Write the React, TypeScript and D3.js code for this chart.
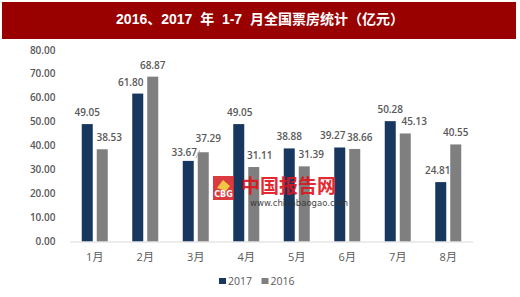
import React from "react";
import * as d3 from "d3";

const months = ["1月", "2月", "3月", "4月", "5月", "6月", "7月", "8月"];
const series = ["2017", "2016"];
const values2017 = [49.05, 61.8, 33.67, 49.05, 38.88, 39.27, 50.28, 24.81];
const values2016 = [38.53, 68.87, 37.29, 31.11, 31.39, 38.66, 45.13, 40.55];
const yTicks = [0, 10, 20, 30, 40, 50, 60, 70, 80];

// label nudges (layout only)
const nudge2017 = [0, -7, -4, 1, 0, -7, 0, -3];
const nudge2016 = [7, 0, 5, 6, 7, 5, 9, 0];
const lift2017 = [0, 0, -3, 0, 0, 0, 0, 0];
const lift2016 = [0, 0, 2, 0, 0, 0, 0, 0];

const W = 520;
const H = 297;
const colors: Record<string, string> = { "2017": "#17375E", "2016": "#7F7F7F" };
const numFont = "'Open Sans', 'Noto Sans CJK SC', sans-serif";
const textGrey = "#595959";

export default function App() {
  const x = d3.scaleBand<string>().domain(months).range([69.5, 473.5]);
  const x1 = d3
    .scaleBand<string>()
    .domain(series)
    .range([(x.bandwidth() - 26) / 2, (x.bandwidth() + 26) / 2])
    .paddingInner(4 / 15);
  const y = d3.scaleLinear().domain([0, 80]).range([241.5, 50]);
  const fmt = d3.format(".2f");

  const data = series.map((s) => ({
    key: s,
    vals: s === "2017" ? values2017 : values2016,
    nudge: s === "2017" ? nudge2017 : nudge2016,
    lift: s === "2017" ? lift2017 : lift2016,
  }));

  return (
    <svg
      width={W}
      height={H}
      style={{ position: "absolute", left: 0, top: 0, background: "#fff" }}
    >
      <rect x={0} y={0} width={W} height={H} fill="#fff" />
      <rect x={2} y={2} width={514} height={37} fill="#990000" />
      <text
        x={260}
        y={20.5}
        textAnchor="middle"
        dominantBaseline="middle"
        fill="#fff"
        fontWeight="bold"
        fontSize={14}
        fontFamily="'Liberation Sans', 'Noto Sans CJK SC', sans-serif"
        style={{ whiteSpace: "pre" }}
      >
        {"2016、2017  年  1-7  月全国票房统计（亿元）"}
      </text>

      {yTicks.map((t) => (
        <text
          key={t}
          x={55.5}
          y={y(t)}
          dy="0.35em"
          textAnchor="end"
          fontSize={10}
          fontWeight={600}
          fontFamily={numFont}
          fill={textGrey}
        >
          {fmt(t)}
        </text>
      ))}

      {data.map((s) =>
        months.map((m, i) => (
          <rect
            key={s.key + m}
            x={(x(m) as number) + (x1(s.key) as number)}
            y={y(s.vals[i])}
            width={x1.bandwidth()}
            height={y(0) - y(s.vals[i])}
            fill={colors[s.key]}
          />
        ))
      )}

      <line x1={70} x2={473} y1={y(0) + 0.5} y2={y(0) + 0.5} stroke="#D9D9D9" strokeWidth={1} />

      {/* watermark */}
      <g opacity={0.9}>
        <rect x={213} y={176} width={21} height={24} fill="#D7262C" />
        <path d="M217 188 L223 180 L230 186 L226 191 Z" fill="#F2C230" />
        <text x={223.5} y={197} textAnchor="middle" fontSize={8} fontWeight="bold" fill="#fff" fontFamily="'DejaVu Sans', sans-serif">
          CBG
        </text>
        <text
          x={241}
          y={188}
          dominantBaseline="middle"
          fontSize={19}
          fontWeight="bold"
          fill="#E0141E"
          fontFamily="'Noto Sans CJK SC', sans-serif"
        >
          中国报告网
        </text>
        <text x={250} y={206} fontSize={8.5} fill="#333" fontFamily="'DejaVu Sans', sans-serif">
          www.chinabaogao.com
        </text>
      </g>

      {data.map((s) =>
        months.map((m, i) => (
          <text
            key={"l" + s.key + m}
            x={(x(m) as number) + (x1(s.key) as number) + x1.bandwidth() / 2 + s.nudge[i]}
            y={y(s.vals[i]) - 8 - s.lift[i]}
            textAnchor="middle"
            fontSize={10}
            fontWeight={600}
            fontFamily={numFont}
            fill={textGrey}
          >
            {fmt(s.vals[i])}
          </text>
        ))
      )}
      <line
        x1={(x("3月") as number) + (x1("2016") as number) - 2}
        y1={y(values2016[2]) + 6}
        x2={(x("3月") as number) + (x1("2016") as number) + 2}
        y2={y(values2016[2]) - 2}
        stroke="#A6A6A6"
        strokeWidth={0.8}
      />

      {months.map((m) => (
        <text
          key={"x" + m}
          x={(x(m) as number) + x.bandwidth() / 2}
          y={257}
          dy="0.35em"
          textAnchor="middle"
          fontSize={11}
          fontFamily={numFont}
          fill={textGrey}
        >
          {m}
        </text>
      ))}

      {series.map((s, i) => (
        <g key={"lg" + s} transform={`translate(${219 + i * 42.5},0)`}>
          <rect x={0} y={278} width={7} height={6} fill={colors[s]} />
          <text
            x={9}
            y={281}
            dy="0.35em"
            fontSize={10.5}
            fontFamily={numFont}
            fill={textGrey}
          >
            {s}
          </text>
        </g>
      ))}
    </svg>
  );
}
